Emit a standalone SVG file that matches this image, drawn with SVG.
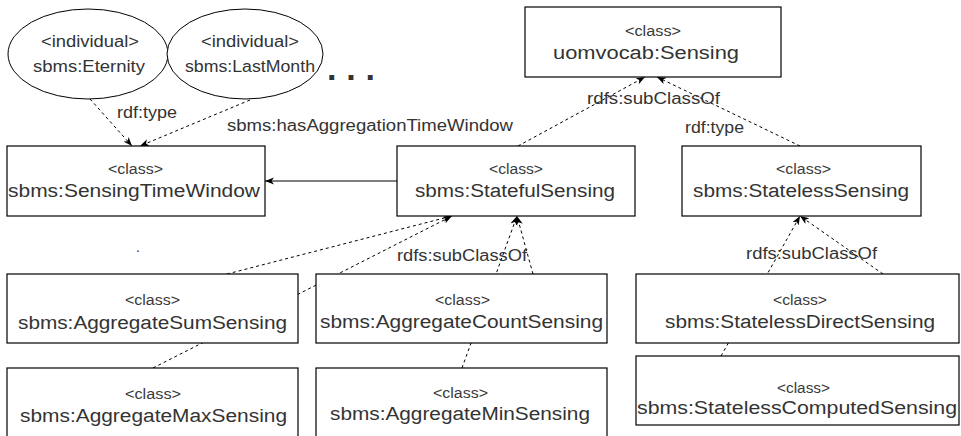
<svg xmlns="http://www.w3.org/2000/svg" width="961" height="436" viewBox="0 0 961 436">
  <style>
    .box { fill: #fff; stroke: #000; stroke-width: 1.2; }
    .ell { fill: #fff; stroke: #000; stroke-width: 1; }
    text { font-family: "Liberation Sans", Arial, sans-serif; fill: #333; }
    .cls { font-size: 14px; fill: #3a3a3a; }
    .name { font-size: 18px; }
    .ind { font-size: 16px; }
    .lbl { font-size: 16px; }
    .dash { fill: none; stroke: #000; stroke-width: 1; stroke-dasharray: 3 3; }
    .solid { fill: none; stroke: #000; stroke-width: 1.2; }
  </style>
  <defs>
    <marker id="arrow" markerUnits="userSpaceOnUse" markerWidth="10" markerHeight="8" refX="9" refY="3.5" orient="auto">
      <path d="M0,0 L9,3.5 L0,7 L2.5,3.5 z" fill="#000"/>
    </marker>
  </defs>

  <rect width="961" height="436" fill="#fff"/>

  <!-- connectors (drawn under the nodes) -->
  <g id="connectors">
    <line class="dash" x1="90" y1="99" x2="132" y2="146" marker-end="url(#arrow)"/>
    <line class="dash" x1="250" y1="100" x2="140" y2="146" marker-end="url(#arrow)"/>
    <line class="solid" x1="397" y1="181" x2="265" y2="181" marker-end="url(#arrow)"/>
    <line class="dash" x1="518" y1="146" x2="645" y2="77" marker-end="url(#arrow)"/>
    <line class="dash" x1="800" y1="146" x2="657" y2="77" marker-end="url(#arrow)"/>
    <line class="dash" x1="227" y1="274" x2="452" y2="216" marker-end="url(#arrow)"/>
    <line class="dash" x1="153" y1="368" x2="452" y2="216" marker-end="url(#arrow)"/>
    <line class="dash" x1="533" y1="274" x2="517" y2="216" marker-end="url(#arrow)"/>
    <line class="dash" x1="462" y1="368" x2="517" y2="216" marker-end="url(#arrow)"/>
    <line class="dash" x1="883" y1="274" x2="800" y2="216" marker-end="url(#arrow)"/>
    <line class="dash" x1="721" y1="356" x2="800" y2="216" marker-end="url(#arrow)"/>

    <text class="lbl" x="117" y="118" textLength="60" lengthAdjust="spacingAndGlyphs">rdf:type</text>
    <text class="lbl" x="227" y="131" textLength="286" lengthAdjust="spacingAndGlyphs">sbms:hasAggregationTimeWindow</text>
    <text class="lbl" x="587" y="104" textLength="133" lengthAdjust="spacingAndGlyphs">rdfs:subClassOf</text>
    <text class="lbl" x="685" y="133" textLength="59" lengthAdjust="spacingAndGlyphs">rdf:type</text>
    <text class="lbl" x="397" y="261" textLength="130" lengthAdjust="spacingAndGlyphs">rdfs:subClassOf</text>
    <text class="lbl" x="746" y="259" textLength="131" lengthAdjust="spacingAndGlyphs">rdfs:subClassOf</text>
  </g>

  <!-- individuals -->
  <g id="eternity">
    <ellipse class="ell" cx="88" cy="54" rx="80" ry="45"/>
    <text class="ind" x="41" y="47" textLength="98" lengthAdjust="spacingAndGlyphs">&lt;individual&gt;</text>
    <text class="ind" x="33" y="72" textLength="112" lengthAdjust="spacingAndGlyphs">sbms:Eternity</text>
  </g>
  <g id="last-month">
    <ellipse class="ell" cx="245" cy="54" rx="78" ry="45"/>
    <text class="ind" x="201" y="47" textLength="98" lengthAdjust="spacingAndGlyphs">&lt;individual&gt;</text>
    <text class="ind" x="185" y="72" textLength="130" lengthAdjust="spacingAndGlyphs">sbms:LastMonth</text>
  </g>
  <g id="ellipsis">
    <text x="327" y="80" font-size="34" font-weight="bold" fill="#000" textLength="48" lengthAdjust="spacing">. . .</text>
  </g>

  <!-- classes -->
  <g id="uomvocab-sensing">
    <rect class="box" x="525" y="7" width="256" height="70"/>
    <text class="cls" x="625" y="36" textLength="56" lengthAdjust="spacingAndGlyphs">&lt;class&gt;</text>
    <text class="name" x="553" y="59" textLength="186" lengthAdjust="spacingAndGlyphs">uomvocab:Sensing</text>
  </g>
  <g id="sensing-time-window">
    <rect class="box" x="7" y="146" width="258" height="70"/>
    <text class="cls" x="108" y="174" textLength="55" lengthAdjust="spacingAndGlyphs">&lt;class&gt;</text>
    <text class="name" x="8" y="197" textLength="252" lengthAdjust="spacingAndGlyphs">sbms:SensingTimeWindow</text>
  </g>
  <g id="stateful-sensing">
    <rect class="box" x="397" y="146" width="238" height="70"/>
    <text class="cls" x="489" y="174" textLength="54" lengthAdjust="spacingAndGlyphs">&lt;class&gt;</text>
    <text class="name" x="415" y="197" textLength="200" lengthAdjust="spacingAndGlyphs">sbms:StatefulSensing</text>
  </g>
  <g id="stateless-sensing">
    <rect class="box" x="682" y="146" width="239" height="70"/>
    <text class="cls" x="776" y="174" textLength="55" lengthAdjust="spacingAndGlyphs">&lt;class&gt;</text>
    <text class="name" x="693" y="197" textLength="216" lengthAdjust="spacingAndGlyphs">sbms:StatelessSensing</text>
  </g>
  <g id="stray-mark">
    <text x="136" y="252" font-size="14">.</text>
  </g>
  <g id="aggregate-sum-sensing">
    <rect class="box" x="7" y="274" width="291" height="69"/>
    <text class="cls" x="125" y="305" textLength="55" lengthAdjust="spacingAndGlyphs">&lt;class&gt;</text>
    <text class="name" x="18" y="329" textLength="269" lengthAdjust="spacingAndGlyphs">sbms:AggregateSumSensing</text>
  </g>
  <g id="aggregate-count-sensing">
    <rect class="box" x="316" y="274" width="291" height="69"/>
    <text class="cls" x="435" y="305" textLength="55" lengthAdjust="spacingAndGlyphs">&lt;class&gt;</text>
    <text class="name" x="320" y="328" textLength="283" lengthAdjust="spacingAndGlyphs">sbms:AggregateCountSensing</text>
  </g>
  <g id="aggregate-max-sensing">
    <rect class="box" x="7" y="368" width="291" height="72"/>
    <text class="cls" x="125" y="399" textLength="56" lengthAdjust="spacingAndGlyphs">&lt;class&gt;</text>
    <text class="name" x="20" y="422" textLength="267" lengthAdjust="spacingAndGlyphs">sbms:AggregateMaxSensing</text>
  </g>
  <g id="aggregate-min-sensing">
    <rect class="box" x="316" y="368" width="291" height="72"/>
    <text class="cls" x="433" y="398" textLength="55" lengthAdjust="spacingAndGlyphs">&lt;class&gt;</text>
    <text class="name" x="330" y="420" textLength="260" lengthAdjust="spacingAndGlyphs">sbms:AggregateMinSensing</text>
  </g>
  <g id="stateless-direct-sensing">
    <rect class="box" x="636" y="274" width="323" height="69"/>
    <text class="cls" x="773" y="305" textLength="54" lengthAdjust="spacingAndGlyphs">&lt;class&gt;</text>
    <text class="name" x="665" y="328" textLength="270" lengthAdjust="spacingAndGlyphs">sbms:StatelessDirectSensing</text>
  </g>
  <g id="stateless-computed-sensing">
    <rect class="box" x="636" y="356" width="323" height="69"/>
    <text class="cls" x="777" y="393" textLength="53" lengthAdjust="spacingAndGlyphs">&lt;class&gt;</text>
    <text class="name" x="637" y="414" textLength="320" lengthAdjust="spacingAndGlyphs">sbms:StatelessComputedSensing</text>
  </g>
</svg>
